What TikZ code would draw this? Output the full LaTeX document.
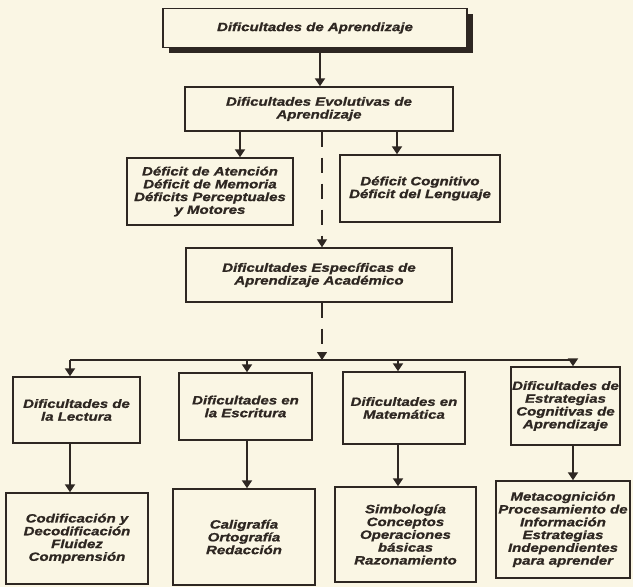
\documentclass[tikz,border=0pt]{standalone}
\usepackage{fontspec}
\newfontfamily\dfont{Liberation Sans}[FakeStretch=1.25, FakeBold=1.2]
\usetikzlibrary{arrows.meta}
\definecolor{papercol}{RGB}{250,246,228}
\definecolor{ink}{rgb}{0.18,0.153,0.133}
\begin{document}
\begin{tikzpicture}[x=1pt,y=-1pt,
  box/.style={draw=ink, line width=1.4pt, fill=papercol, align=center, inner sep=1pt, text=ink,
    font=\dfont\bfseries\itshape\fontsize{12}{12.8}\selectfont},
  arr/.style={draw=ink, line width=1.8pt, -{Triangle[width=10pt,length=8pt]}},
  dsh/.style={draw=ink, line width=1.2pt, dash pattern=on 15pt off 11pt, -{Triangle[width=10pt,length=8pt]}},
  busline/.style={draw=ink, line width=1.8pt},
  shadowfill/.style={fill=ink}]
\fill[papercol] (0,0) rectangle (633,587);
\useasboundingbox (0,0) rectangle (633,587);
% shadow of the title box
\fill[shadowfill] (169,13.5) rectangle (473,52.5);
% nodes
\node[box, minimum width=304pt, minimum height=39pt] (top) at (315,28) {Dificultades de Aprendizaje};
\node[box, minimum width=268pt, minimum height=44pt] (box2) at (319,109) {Dificultades Evolutivas de\\Aprendizaje};
\node[box, minimum width=166pt, minimum height=67pt] (box3) at (210,191.5) {Déficit de Atención\\Déficit de Memoria\\Déficits Perceptuales\\y Motores};
\node[box, minimum width=160pt, minimum height=67pt] (box4) at (420,188.5) {Déficit Cognitivo\\Déficit del Lenguaje};
\node[box, minimum width=266pt, minimum height=54pt] (box5) at (319,275) {Dificultades Específicas de\\Aprendizaje Académico};
\node[box, minimum width=127pt, minimum height=66pt] (L1) at (76.5,410) {Dificultades de\\la Lectura};
\node[box, minimum width=133pt, minimum height=67pt] (L2) at (245.5,406.5) {Dificultades en\\la Escritura};
\node[box, minimum width=122pt, minimum height=72pt] (L3) at (404,408) {Dificultades en\\Matemática};
\node[box, minimum width=105pt, minimum height=78pt] (L4) at (565.5,406) {Dificultades de\\Estrategias\\Cognitivas de\\Aprendizaje};
\node[box, minimum width=142pt, minimum height=91pt] (B1) at (77,538.5) {Codificación y\\Decodificación\\Fluidez\\Comprensión};
\node[box, minimum width=142pt, minimum height=96pt] (B2) at (244,537) {Caligrafía\\Ortografía\\Redacción};
\node[box, minimum width=141pt, minimum height=95pt] (B3) at (405.5,534.5) {Simbología\\Conceptos\\Operaciones\\básicas\\Razonamiento};
\node[box, minimum width=134pt, minimum height=97pt] (B4) at (563,529.5) {Metacognición\\Procesamiento de\\Información\\Estrategias\\Independientes\\para aprender};
% coordinates
\coordinate (x0) at (320,0);
\coordinate (x1) at (240,0);
\coordinate (x2) at (397,0);
\coordinate (xm) at (322,0);
\coordinate (bm) at (322,360);
\coordinate (c1) at (70,360);
\coordinate (c2) at (247,360);
\coordinate (c3) at (398,360);
\coordinate (c4) at (573,360);
% connectors
\draw[arr] (top.south -| x0) ++(0,4) -- (box2.north -| x0);
\draw[arr] (box2.south -| x1) -- (box3.north -| x1);
\draw[arr] (box2.south -| x2) -- (box4.north -| x2);
\draw[dsh] (box2.south -| xm) -- (box5.north -| xm);
\draw[dsh] (box5.south -| xm) -- (bm);
\draw[busline] (c1) -- (c4);
\draw[arr] (c1) -- (c1 |- L1.north);
\draw[arr] (c2) -- (c2 |- L2.north);
\draw[arr] (c3) -- (c3 |- L3.north);
\draw[arr] (c4) -- (c4 |- L4.north);
\draw[arr] (L1.south -| c1) -- (B1.north -| c1);
\draw[arr] (L2.south -| c2) -- (B2.north -| c2);
\draw[arr] (L3.south -| c3) -- (B3.north -| c3);
\draw[arr] (L4.south -| c4) -- (B4.north -| c4);
\end{tikzpicture}
\end{document}
